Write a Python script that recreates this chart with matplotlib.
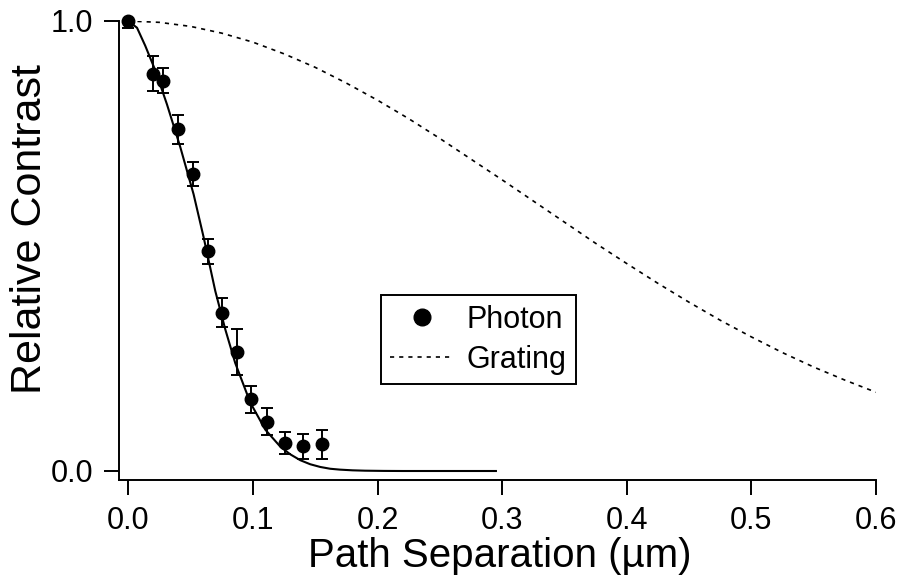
import matplotlib
matplotlib.use("Agg")
import matplotlib.pyplot as plt
from matplotlib.lines import Line2D

plt.rcParams['font.family'] = ['Liberation Sans', 'DejaVu Sans']

# Measured photon contrast
photon_x = [0.0, 0.0198, 0.0278, 0.0398, 0.0516, 0.0636, 0.0751, 0.0872, 0.0987, 0.1115, 0.1254, 0.1398, 0.1553]
photon_y = [1.0, 0.883, 0.867, 0.759, 0.660, 0.488, 0.352, 0.265, 0.159, 0.109, 0.062, 0.055, 0.059]
photon_err_lo = [0.016, 0.039, 0.028, 0.032, 0.027, 0.027, 0.032, 0.051, 0.030, 0.030, 0.025, 0.028, 0.032]
photon_err_hi = [0.0, 0.039, 0.028, 0.032, 0.027, 0.027, 0.032, 0.051, 0.030, 0.030, 0.025, 0.028, 0.032]

# Fit curve through photon data
fit_x = [0.0, 0.007, 0.0136, 0.0217, 0.031, 0.0417, 0.0524, 0.0604, 0.0698, 0.0778, 0.0858,
         0.0979, 0.1099, 0.122, 0.130, 0.138, 0.146, 0.154, 0.162, 0.17, 0.18, 0.19, 0.205, 0.22, 0.295]
fit_y = [1.0, 0.985, 0.945, 0.89, 0.815, 0.72, 0.615, 0.52, 0.40, 0.315, 0.24,
         0.152, 0.092, 0.054, 0.037, 0.024, 0.015, 0.009, 0.005, 0.003, 0.0015, 0.0007, 0.0002, 0.0, 0.0]

# Grating curve
grating_x = [0.0, 0.025, 0.05, 0.075, 0.1, 0.125, 0.15, 0.175, 0.2, 0.225, 0.25, 0.275, 0.3,
             0.325, 0.35, 0.375, 0.4, 0.425, 0.45, 0.475, 0.5, 0.525, 0.55, 0.575, 0.6]
grating_y = [1.0, 0.997, 0.988, 0.973, 0.953, 0.927, 0.897, 0.862, 0.824, 0.783, 0.739, 0.693, 0.647,
             0.600, 0.553, 0.506, 0.461, 0.417, 0.375, 0.335, 0.298, 0.263, 0.231, 0.202, 0.175]

x_ticks = [0.0, 0.1, 0.2, 0.3, 0.4, 0.5, 0.6]
x_tick_labels = ["0.0", "0.1", "0.2", "0.3", "0.4", "0.5", "0.6"]
y_ticks = [0.0, 1.0]
y_tick_labels = ["0.0", "1.0"]

W, H = 901, 579
fig = plt.figure(figsize=(W / 100, H / 100), dpi=100)
ax = fig.add_axes([119.3 / W, 1 - 480 / H, (876 - 119.3) / W, (480 - 21) / H])

ax.plot(fit_x, fit_y, color='black', lw=1.5, zorder=2)
ax.plot(grating_x, grating_y, color='black', lw=1.2, dashes=(2.5, 3), zorder=2)
ax.errorbar(photon_x, photon_y, yerr=[photon_err_lo, photon_err_hi], fmt='o', color='black',
            ms=9, elinewidth=1.4, capsize=4.3, capthick=1.4, zorder=3, clip_on=False)

ax.set_xlim(-0.00722, 0.6)
ax.set_ylim(-0.02, 1.0)

for s in ['top', 'right']:
    ax.spines[s].set_visible(False)
for s in ['left', 'bottom']:
    ax.spines[s].set_linewidth(1.4)

ax.set_xticks(x_ticks)
ax.set_xticklabels(x_tick_labels)
ax.set_yticks(y_ticks)
ax.set_yticklabels(y_tick_labels)
ax.tick_params(direction='out', length=11, width=1.4, labelsize=22, pad=8)

ax.set_xlabel('Path Separation (µm)', fontsize=29)
ax.set_ylabel('Relative Contrast', fontsize=31)
ax.xaxis.set_label_coords((500 - 119.3) / (876 - 119.3), -(556 - 480) / (480 - 21))
ax.yaxis.set_label_coords(-(119.3 - 30) / (876 - 119.3), (480 - 229) / (480 - 21))
ax.xaxis.label.set_va('center')
ax.yaxis.label.set_va('center')

h_photon = Line2D([], [], marker='o', ls='', ms=12, color='black')
h_grating = Line2D([], [], color='black', lw=1.2, dashes=(2.5, 3))
leg = ax.legend([h_photon, h_grating], ['Photon', 'Grating'],
                loc='upper left', bbox_to_anchor=(380.7 / W, 1 - 295 / H),
                bbox_transform=fig.transFigure, borderaxespad=0, fontsize=22,
                frameon=True, fancybox=False, edgecolor='black', framealpha=1,
                handlelength=2.06, handletextpad=0.42, labelspacing=0.32, borderpad=0.32)
leg.get_frame().set_linewidth(1.4)

fig.savefig('out.png', dpi=100)
